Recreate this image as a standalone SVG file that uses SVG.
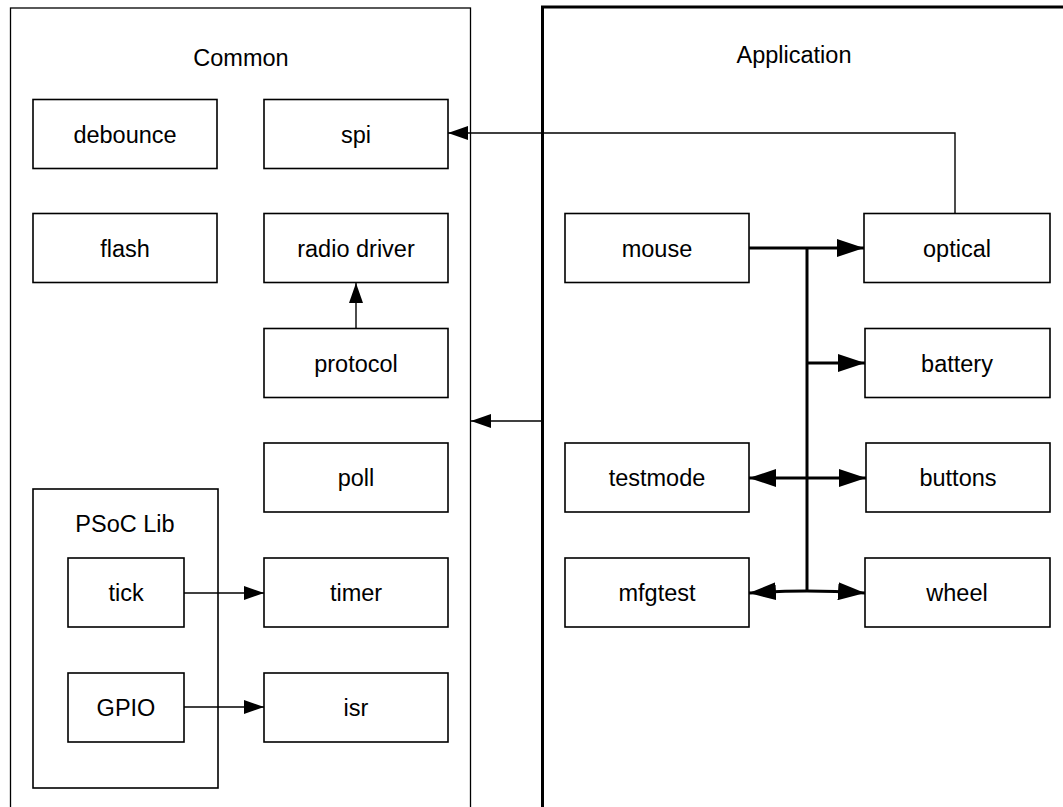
<svg xmlns="http://www.w3.org/2000/svg" width="1063" height="807" viewBox="0 0 1063 807">
<defs>
<marker id="a" markerUnits="userSpaceOnUse" markerWidth="20" markerHeight="14" refX="20" refY="7" orient="auto"><path d="M0,0 L20,7 L0,14 z" fill="#000"/></marker>
<marker id="b" markerUnits="userSpaceOnUse" markerWidth="27" markerHeight="18" refX="27" refY="9" orient="auto"><path d="M0,0 L27,9 L0,18 z" fill="#000"/></marker>
<style>
.box{fill:#fff;stroke:#000;stroke-width:1.6}
.t{font-family:"Liberation Sans",Arial,sans-serif;font-size:23.5px;fill:#000;text-anchor:middle}
.thin{fill:none;stroke:#000;stroke-width:1.4;marker-end:url(#a)}
.thick{fill:none;stroke:#000;stroke-width:3;marker-end:url(#b)}
</style>
</defs>
<rect width="1063" height="807" fill="#fff"/>
<g id="common">
<rect x="10.5" y="8" width="460" height="820" fill="#fff" stroke="#000" stroke-width="1.3"/>
<text class="t" x="241" y="66">Common</text>
</g>
<g id="application">
<rect x="542.5" y="7" width="600" height="830" fill="#fff" stroke="#000" stroke-width="3"/>
<text class="t" x="794" y="63">Application</text>
</g>
<g id="psoclib">
<rect class="box" x="33" y="489" width="185" height="299"/>
<text class="t" x="125" y="532">PSoC Lib</text>
</g>
<g id="debounce"><rect class="box" x="33" y="99.5" width="184" height="69"/><text class="t" x="125" y="142.5">debounce</text></g>
<g id="spi"><rect class="box" x="264" y="99.5" width="184" height="69"/><text class="t" x="356" y="142.5">spi</text></g>
<g id="flash"><rect class="box" x="33" y="213.5" width="184" height="69"/><text class="t" x="125" y="256.5">flash</text></g>
<g id="radio"><rect class="box" x="264" y="213.5" width="184" height="69"/><text class="t" x="356" y="256.5">radio driver</text></g>
<g id="protocol"><rect class="box" x="264" y="328.5" width="184" height="69"/><text class="t" x="356" y="371.5">protocol</text></g>
<g id="poll"><rect class="box" x="264" y="443" width="184" height="69"/><text class="t" x="356" y="486">poll</text></g>
<g id="tick"><rect class="box" x="68" y="558" width="116" height="69"/><text class="t" x="126" y="601">tick</text></g>
<g id="timer"><rect class="box" x="264" y="558" width="184" height="69"/><text class="t" x="356" y="601">timer</text></g>
<g id="gpio"><rect class="box" x="68" y="673" width="116" height="69"/><text class="t" x="126" y="716">GPIO</text></g>
<g id="isr"><rect class="box" x="264" y="673" width="184" height="69"/><text class="t" x="356" y="716">isr</text></g>
<g id="mouse"><rect class="box" x="565" y="213.5" width="184" height="69"/><text class="t" x="657" y="256.5">mouse</text></g>
<g id="optical"><rect class="box" x="864" y="213.5" width="186" height="69"/><text class="t" x="957" y="256.5">optical</text></g>
<g id="battery"><rect class="box" x="865" y="328.5" width="185" height="69"/><text class="t" x="957" y="371.5">battery</text></g>
<g id="testmode"><rect class="box" x="565" y="443" width="184" height="69"/><text class="t" x="657" y="486">testmode</text></g>
<g id="buttons"><rect class="box" x="866" y="443" width="184" height="69"/><text class="t" x="958" y="486">buttons</text></g>
<g id="mfgtest"><rect class="box" x="565" y="558" width="184" height="69"/><text class="t" x="657" y="601">mfgtest</text></g>
<g id="wheel"><rect class="box" x="865" y="558" width="185" height="69"/><text class="t" x="957" y="601">wheel</text></g>
<g id="connectors">
<path class="thin" d="M955,213.5 V133 H448"/>
<path class="thin" d="M356,328.5 V283"/>
<path class="thin" d="M543,421 H471"/>
<path class="thin" d="M184,593 H264"/>
<path class="thin" d="M184,707 H264"/>
<path class="thick" d="M749,248 H864"/>
<path d="M807,248 V591" fill="none" stroke="#000" stroke-width="3"/>
<path class="thick" d="M807,363 H865"/>
<path class="thick" d="M807,478 H749"/>
<path class="thick" d="M807,478 H866"/>
<path class="thick" d="M807,591 Q780,591 749,593"/>
<path class="thick" d="M807,591 Q835,591 865,593"/>
</g>
</svg>
